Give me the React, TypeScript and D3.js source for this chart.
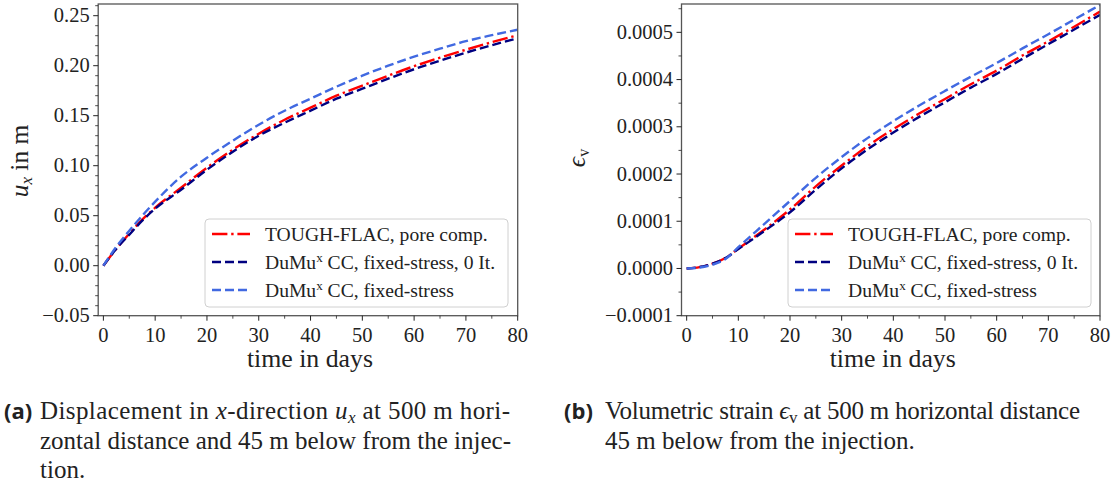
import React from "react";
import * as d3 from "d3";

const days = [0, 2.5, 5, 7.5, 10, 15, 20, 25, 30, 35, 40, 45, 50, 55, 60, 65, 70, 75, 80];

// (a) displacement u_x in m
const uxTough = [0, 0.017, 0.032, 0.046, 0.058, 0.078, 0.098, 0.116, 0.132, 0.146, 0.158, 0.17, 0.18, 0.19, 0.1995, 0.208, 0.216, 0.2235, 0.2305];
const uxDumux0 = [0, 0.017, 0.031, 0.045, 0.057, 0.076, 0.096, 0.114, 0.13, 0.143, 0.155, 0.167, 0.177, 0.187, 0.1965, 0.205, 0.213, 0.2205, 0.2275];
const uxDumux = [0, 0.019, 0.035, 0.05, 0.064, 0.089, 0.108, 0.125, 0.141, 0.155, 0.167, 0.179, 0.19, 0.2, 0.209, 0.217, 0.2245, 0.2305, 0.236];

// (b) volumetric strain
const evTough = [0, 0.000003, 0.00001, 0.000022, 0.000042, 0.000082, 0.000125, 0.000174, 0.000218, 0.000259, 0.000295, 0.000328, 0.000359, 0.00039, 0.000419, 0.000451, 0.000481, 0.000512, 0.000544];
const evDumux0 = [0, 0.000003, 0.00001, 0.000022, 0.000041, 0.000079, 0.000119, 0.000167, 0.000212, 0.000252, 0.000288, 0.000321, 0.000352, 0.000383, 0.000412, 0.000444, 0.000475, 0.000506, 0.000537];
const evDumux = [0, 0.000002, 0.000008, 0.00002, 0.000045, 0.000094, 0.000143, 0.000192, 0.000236, 0.000276, 0.000312, 0.000345, 0.000376, 0.000406, 0.000435, 0.000466, 0.000496, 0.000527, 0.000558];

const xTicks = [0, 10, 20, 30, 40, 50, 60, 70, 80];
const xMinor = [5, 15, 25, 35, 45, 55, 65, 75];
const uxTicks = [-0.05, 0, 0.05, 0.1, 0.15, 0.2, 0.25];
const evTicks = [-0.0001, 0, 0.0001, 0.0002, 0.0003, 0.0004, 0.0005];

const seriesNames = ["TOUGH-FLAC, pore comp.", "DuMu", "DuMu"];

const SERIF = "'Liberation Serif', 'Times New Roman', serif";
const SANS = "'Open Sans', 'Noto Sans', sans-serif";

const styles = [
  { color: "#ff0000", dash: "15.4,3.8,2.4,3.8" },
  { color: "#000080", dash: "9,4" },
  { color: "#4169e1", dash: "9,4" },
];

type PanelProps = {
  xRange: [number, number];
  yDomain: [number, number];
  yTicks: number[];
  yMinorStep: number;
  fmt: (v: number) => string;
  data: number[][];
  legendX: number;
};

function minus(s: string) {
  return s.replace("-", "\u2212");
}

function Panel({ xRange, yDomain, yTicks, yMinorStep, fmt, data, legendX }: PanelProps) {
  const top = 4;
  const bottom = 315.7;
  const x = d3.scaleLinear().domain([-1, 80]).range(xRange);
  const y = d3.scaleLinear().domain(yDomain).range([bottom, top]);
  const line = d3
    .line<number>()
    .x((_, i) => x(days[i]))
    .y((d) => y(d))
    .curve(d3.curveMonotoneX);
  const minors: number[] = [];
  for (let v = yDomain[0]; v <= yDomain[1] + 1e-12; v += yMinorStep) {
    const r = Math.round(v / yMinorStep) * yMinorStep;
    if (!yTicks.some((t) => Math.abs(t - r) < yMinorStep / 10)) minors.push(r);
  }
  const left = xRange[0];
  const right = xRange[1];
  const lx = legendX;
  const ly = 219;
  const cid = `clip${Math.round(left)}`;
  return (
    <g>
      <defs>
        <clipPath id={cid}>
          <rect x={left} y={top} width={right - left} height={bottom - top} />
        </clipPath>
      </defs>
      <g clipPath={`url(#${cid})`}>
        {data.map((d, i) => (
          <path
            key={i}
            d={line(d) || ""}
            fill="none"
            stroke={styles[i].color}
            strokeWidth={2.4}
            strokeDasharray={styles[i].dash}
          />
        ))}
      </g>
      <rect x={left} y={top} width={right - left} height={bottom - top} fill="none" stroke="#555" strokeWidth={1.3} />
      {xTicks.map((t) => (
        <g key={t}>
          <line x1={x(t)} x2={x(t)} y1={bottom} y2={bottom + 5} stroke="#222" strokeWidth={1} />
          <text x={x(t)} y={341.5} textAnchor="middle" fontFamily={SERIF} fontSize={20.5} fill="#222">
            {t}
          </text>
        </g>
      ))}
      {xMinor.map((t) => (
        <line key={t} x1={x(t)} x2={x(t)} y1={bottom} y2={bottom + 3} stroke="#222" strokeWidth={0.8} />
      ))}
      {yTicks.map((t) => (
        <g key={t}>
          <line x1={left - 5} x2={left} y1={y(t)} y2={y(t)} stroke="#222" strokeWidth={1} />
          <text x={left - 8.5} y={y(t) + 6.5} textAnchor="end" fontFamily={SERIF} fontSize={20.5} fill="#222">
            {minus(fmt(t))}
          </text>
        </g>
      ))}
      {minors.map((t) => (
        <line key={t} x1={left - 3} x2={left} y1={y(t)} y2={y(t)} stroke="#222" strokeWidth={0.8} />
      ))}
      <text x={(left + right) / 2 + 2} y={366.5} textAnchor="middle" fontFamily={SERIF} fontSize={25.8} fill="#222">
        time in days
      </text>
      <rect x={lx} y={ly} width={303} height={88} rx={4} fill="#fff" fillOpacity={0.8} stroke="#d0d0d0" strokeWidth={1} />
      {styles.map((s, i) => {
        const yy = ly + 15 + i * 28;
        return (
          <g key={i}>
            <line x1={lx + 7} x2={lx + 45} y1={yy} y2={yy} stroke={s.color} strokeWidth={2.4} strokeDasharray={s.dash} />
            <text x={lx + 60} y={yy + 6.5} fontFamily={SERIF} fontSize={19.6} fill="#222">
              {i === 0 ? (
                seriesNames[0]
              ) : (
                <>
                  {seriesNames[i]}
                  <tspan dy={-7} fontSize={13}>x</tspan>
                  <tspan dy={7}>{i === 1 ? " CC, fixed-stress, 0 It." : " CC, fixed-stress"}</tspan>
                </>
              )}
            </text>
          </g>
        );
      })}
    </g>
  );
}

export default function App() {
  return (
    <svg width={1118} height={487} style={{ position: "absolute", left: 0, top: 0, background: "#fff" }}>
      <rect width={1118} height={487} fill="#fff" />
      <Panel
        xRange={[98.2, 517.7]}
        yDomain={[-0.05, 0.2617]}
        yTicks={uxTicks}
        yMinorStep={0.01}
        fmt={(v) => d3.format(".2f")(v)}
        data={[uxTough, uxDumux0, uxDumux]}
        legendX={205}
      />
      <Panel
        xRange={[681.5, 1100]}
        yDomain={[-0.0001, 0.00056]}
        yTicks={evTicks}
        yMinorStep={0.00005}
        fmt={(v) => d3.format(".4f")(v)}
        data={[evTough, evDumux0, evDumux]}
        legendX={788}
      />
      <text transform="translate(28,161) rotate(-90)" textAnchor="middle" fontFamily={SERIF} fontSize={25.5} fill="#222">
        <tspan fontStyle="italic">u</tspan>
        <tspan fontStyle="italic" fontSize={17} dy={4}>x</tspan>
        <tspan dy={-4}> in m</tspan>
      </text>
      <text transform="translate(585,158) rotate(-90)" textAnchor="middle" fontFamily={SERIF} fontSize={25.5} fill="#222">
        <tspan fontStyle="italic">ϵ</tspan>
        <tspan fontSize={16} dy={4}>v</tspan>
      </text>
      <text x={4} y={419} fontFamily={SANS} fontWeight="bold" fontSize={22} fill="#222">(a)</text>
      <text x={40} y={419} fontFamily={SERIF} fontSize={25} fill="#222" textLength={470} lengthAdjust="spacing">
        Displacement in <tspan fontStyle="italic">x</tspan>-direction <tspan fontStyle="italic">u</tspan>
        <tspan fontStyle="italic" fontSize={17} dy={4}>x</tspan>
        <tspan dy={-4}> at 500 m hori-</tspan>
      </text>
      <text x={40} y={448.5} fontFamily={SERIF} fontSize={25} fill="#222" textLength={471} lengthAdjust="spacing">
        zontal distance and 45 m below from the injec-
      </text>
      <text x={40} y={478} fontFamily={SERIF} fontSize={25} fill="#222">
        tion.
      </text>
      <text x={564} y={419} fontFamily={SANS} fontWeight="bold" fontSize={22} fill="#222">(b)</text>
      <text x={605} y={419} fontFamily={SERIF} fontSize={25} fill="#222" textLength={475} lengthAdjust="spacing">
        Volumetric strain <tspan fontStyle="italic">ϵ</tspan>
        <tspan fontSize={17} dy={4}>v</tspan>
        <tspan dy={-4}> at 500 m horizontal distance</tspan>
      </text>
      <text x={605} y={448.5} fontFamily={SERIF} fontSize={25} fill="#222">
        45 m below from the injection.
      </text>
    </svg>
  );
}
